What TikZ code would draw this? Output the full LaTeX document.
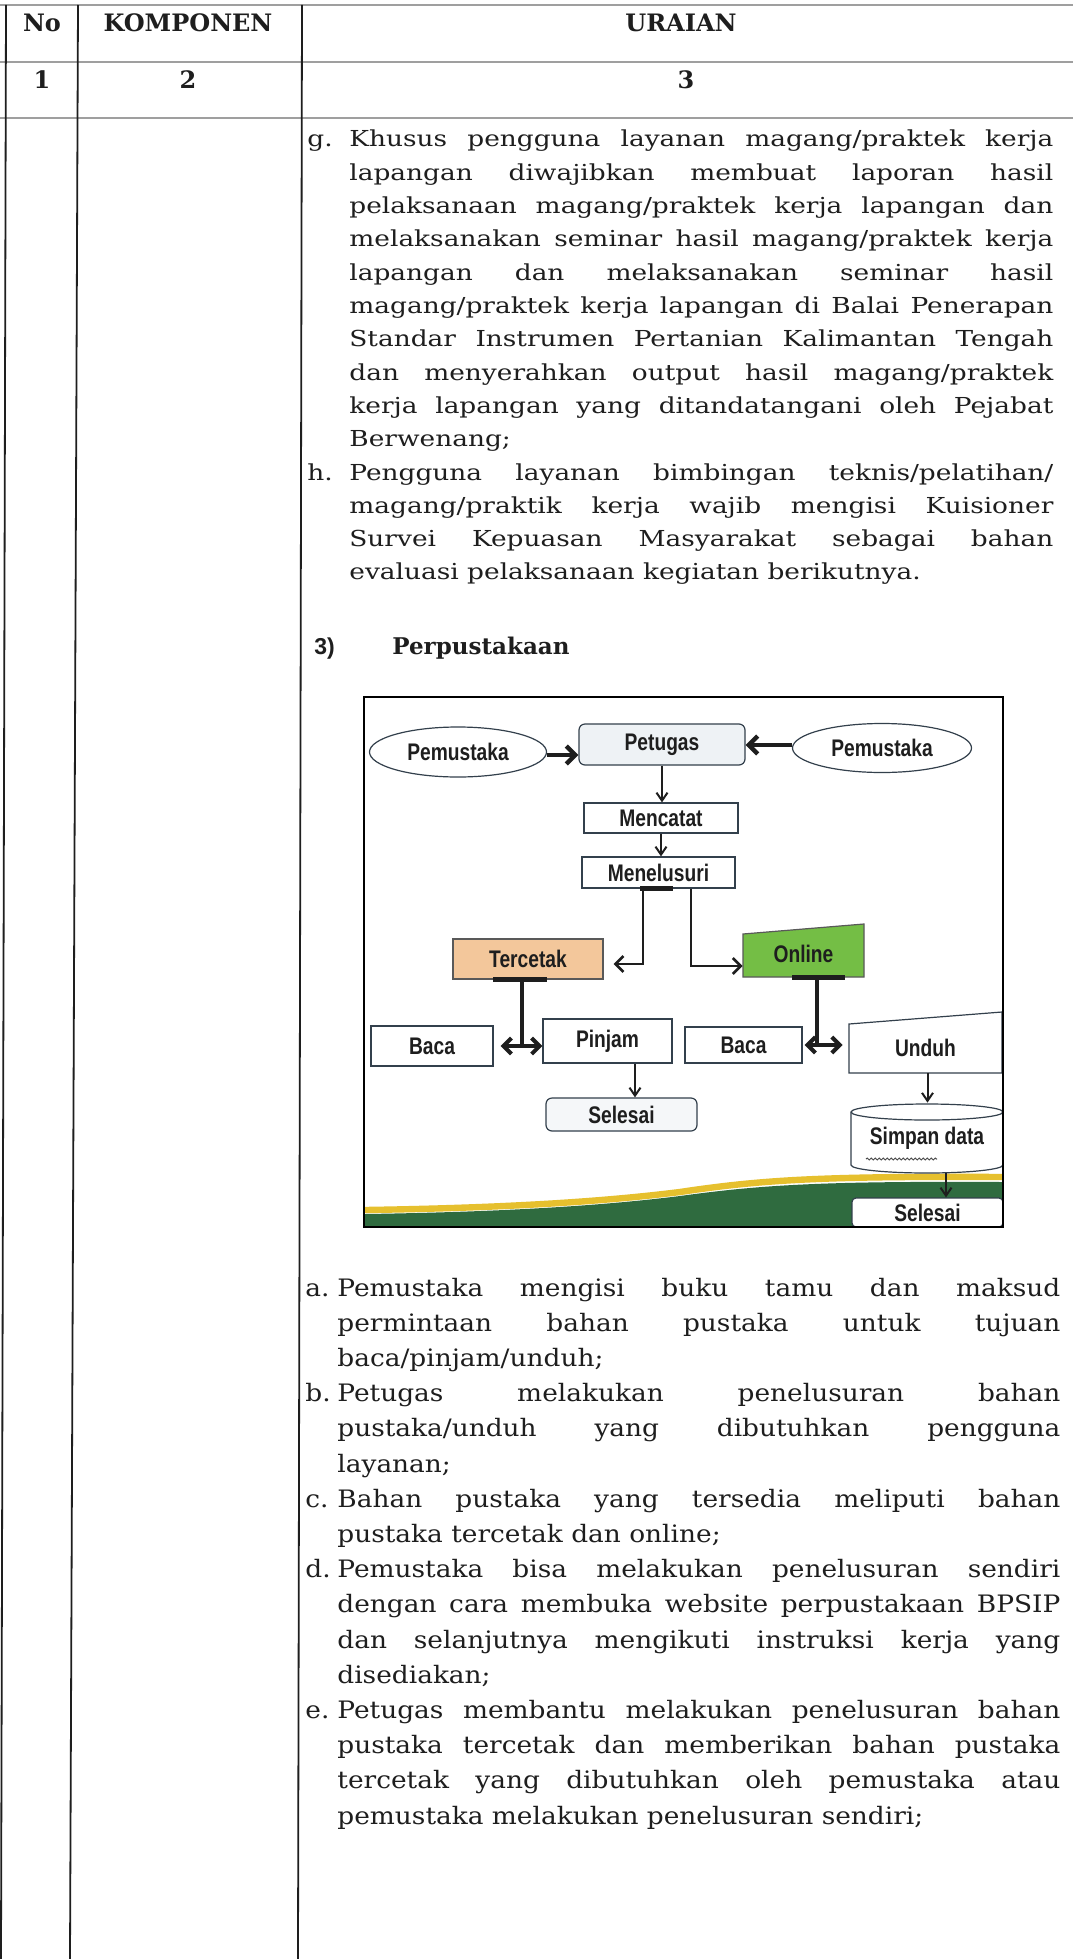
\documentclass[tikz,border=0pt]{standalone}
\usepackage{fontspec}
\setmainfont{DejaVu Serif}
\newfontfamily\upfont[FakeStretch=1.2]{DejaVu Serif}
\newfontfamily\lofont[FakeStretch=1.1]{DejaVu Serif}
\newfontfamily\hdfont{DejaVu Serif}
\newfontfamily\dgfont[FakeStretch=0.8]{Liberation Sans}
\newfontfamily\sansb{Liberation Sans}
\usetikzlibrary{arrows.meta,calc,shapes.geometric,decorations.pathmorphing}
\definecolor{txt}{HTML}{1E1E1E}
\definecolor{edge}{HTML}{33404C}
\definecolor{peach}{HTML}{F3C79B}
\definecolor{lime}{HTML}{74BE45}
\definecolor{dgreen}{HTML}{2F6B3F}
\definecolor{gold}{HTML}{E6C02E}
\definecolor{pale}{HTML}{EEF2F5}
\newcommand{\UL}[1]{\makebox[352pt][s]{#1}}
\newcommand{\LL}[1]{\makebox[361.5pt][s]{#1}}
\begin{document}
\begin{tikzpicture}[x=0.5pt,y=-0.5pt,
  hline/.style={draw=gray!75, line width=1pt},
  vline/.style={draw=txt, line width=0.9pt},
  hd/.style={anchor=base, inner sep=0pt, text=txt, font=\hdfont\bfseries\fontsize{12pt}{14pt}\selectfont},
  up/.style={anchor=base west, inner sep=0pt, text=txt, font=\upfont\fontsize{11pt}{13pt}\selectfont},
  lo/.style={anchor=base west, inner sep=0pt, text=txt, font=\lofont\fontsize{12pt}{14pt}\selectfont},
  box/.style={draw=edge, line width=0.6pt, fill=white, inner sep=0pt, text=txt,
    font=\dgfont\bfseries\fontsize{12pt}{13pt}\selectfont},
  nobox/.style={inner sep=0pt, text=txt, font=\dgfont\bfseries\fontsize{12pt}{13pt}\selectfont},
  arr/.style={draw=txt, line width=1pt, -{Straight Barb[length=4pt,width=5.5pt]}},
  bigarr/.style={draw=txt, line width=2.2pt, -{Straight Barb[length=4.5pt,width=9pt]}},
  elb/.style={draw=txt, line width=1.3pt, -{Straight Barb[length=4pt,width=8pt]}},
  dbl/.style={draw=txt, line width=2pt, {Straight Barb[length=4pt,width=8pt]}-{Straight Barb[length=4pt,width=8pt]}},
  bar/.style={draw=txt, line width=2.2pt},
  stem/.style={draw=txt, line width=2pt}
]
\useasboundingbox (0,0) rectangle (1073,1959);
\fill[white] (0,0) rectangle (1073,1959);

% ---------- table ----------
\draw[hline] (0,5) -- (1073,5);
\draw[hline] (0,62) -- (1073,62);
\draw[hline] (0,118) -- (1073,118);
\draw[vline] (6,5) -- (1,1959);
\draw[vline] (78,5) -- (70,1959);
\draw[vline] (302,5) -- (298,1959);

\node[hd] (hno) at (42,32) {No};
\node[hd] (hkomp) at (188,32) {KOMPONEN};
\node[hd] (hura) at (681,32) {URAIAN};
\node[hd] (n1) at (42,89) {1};
\node[hd] (n2) at (188,89) {2};
\node[hd] (n3) at (686,89) {3};

% ---------- upper text ----------
\node[up] (lg) at (307,147) {g.};
\node[up] (u1) at (349,147.0) {\UL{Khusus pengguna layanan magang/praktek kerja}};
\node[up] (u2) at (349,180.3) {\UL{lapangan diwajibkan membuat laporan hasil}};
\node[up] (u3) at (349,213.6) {\UL{pelaksanaan magang/praktek kerja lapangan dan}};
\node[up] (u4) at (349,246.9) {\UL{melaksanakan seminar hasil magang/praktek kerja}};
\node[up] (u5) at (349,280.2) {\UL{lapangan dan melaksanakan seminar hasil}};
\node[up] (u6) at (349,313.5) {\UL{magang/praktek kerja lapangan di Balai Penerapan}};
\node[up] (u7) at (349,346.8) {\UL{Standar Instrumen Pertanian Kalimantan Tengah}};
\node[up] (u8) at (349,380.1) {\UL{dan menyerahkan output hasil magang/praktek}};
\node[up] (u9) at (349,413.4) {\UL{kerja lapangan yang ditandatangani oleh Pejabat}};
\node[up] (u10) at (349,446.7) {Berwenang;};
\node[up] (lh) at (307,480) {h.};
\node[up] (u11) at (349,480.0) {\UL{Pengguna layanan bimbingan teknis/pelatihan/}};
\node[up] (u12) at (349,513.3) {\UL{magang/praktik kerja wajib mengisi Kuisioner}};
\node[up] (u13) at (349,546.6) {\UL{Survei Kepuasan Masyarakat sebagai bahan}};
\node[up] (u14) at (349,579.9) {evaluasi pelaksanaan kegiatan berikutnya.};

\node[anchor=base west, inner sep=0pt, text=txt, font=\sansb\bfseries\fontsize{11.5pt}{13pt}\selectfont] (s3) at (314,654) {3)};
\node[anchor=base west, inner sep=0pt, text=txt, font=\hdfont\bfseries\fontsize{11.5pt}{13pt}\selectfont] (sperp) at (392,654) {Perpustakaan};

% ---------- diagram ----------
\fill[white] (364,697) rectangle (1003,1227);
% wave
\fill[dgreen] (365,1226) -- (365,1214) .. controls (500,1212) and (600,1206) .. (680,1196)
   .. controls (760,1185) and (820,1181) .. (1002,1182) -- (1002,1226) -- cycle;
\draw[gold, line width=3.2pt] (365,1210) .. controls (500,1208) and (600,1202) .. (680,1192)
   .. controls (760,1180) and (820,1176) .. (1002,1177);

% shapes drawn directly
\filldraw[fill=lime, draw=gray!70!black, line width=0.6pt] (743,934) -- (864,924) -- (864,977) -- (743,977) -- cycle;
\filldraw[fill=white, draw=edge, line width=0.6pt] (849,1024) -- (1002,1012) -- (1002,1073) -- (849,1073) -- cycle;
\filldraw[fill=white, draw=edge, line width=0.6pt] (851,1112) -- (851,1165)
   arc[start angle=180, end angle=360, x radius=38pt, y radius=4pt] -- (1003,1112)
   arc[start angle=0, end angle=180, x radius=38pt, y radius=4pt] -- cycle;
\draw[edge, line width=0.6pt] (851,1112) arc[start angle=180, end angle=360, x radius=38pt, y radius=4pt];

\node[box, ellipse, minimum width=88.5pt, minimum height=25pt] (pemL) at (458,752) {Pemustaka};
\node[box, ellipse, minimum width=89.5pt, minimum height=24.5pt] (pemR) at (882,748) {Pemustaka};
\node[box, rounded corners=3pt, fill=pale, minimum width=83pt, minimum height=20.5pt] (petugas) at (662,744.5) {Petugas};
\node[box, minimum width=77pt, minimum height=15pt] (mencatat) at (661,818) {Mencatat};
\node[box, minimum width=76.5pt, minimum height=15.5pt] (menelusuri) at (658.5,872.5) {Menelusuri};
\node[box, fill=peach, draw=gray!70!black, minimum width=75pt, minimum height=20pt] (tercetak) at (528,959) {Tercetak};
\node[nobox, minimum width=60.5pt, minimum height=23pt] (online) at (803.5,954) {Online};
\node[box, minimum width=61pt, minimum height=20pt] (bacaL) at (432,1046) {Baca};
\node[box, minimum width=64.5pt, minimum height=22pt] (pinjam) at (607.5,1041) {\raisebox{1.5pt}{Pinjam}};
\node[box, rounded corners=3pt, fill=pale!60, minimum width=75.5pt, minimum height=16.5pt] (selL) at (621.5,1114.5) {Selesai};
\node[box, minimum width=58.5pt, minimum height=18pt] (bacaR) at (743.5,1045) {Baca};
\node[nobox, minimum width=76.5pt, minimum height=25pt] (unduh) at (925.5,1048) {Unduh};
\node[nobox, minimum width=76pt, minimum height=35pt] (simpan) at (927,1138) {\raisebox{-4.5pt}{Simpan data}};
\node[box, rounded corners=2pt, minimum width=75.5pt, minimum height=14.5pt] (selR) at (927.5,1212.5) {Selesai};

\draw[gray!60!black, line width=0.5pt, decorate, decoration={snake, amplitude=0.45pt, segment length=2pt}] (866,1159) -- (937,1159);

% connectors
\draw[bigarr] ([yshift=-1.5pt]pemL.east) -- ([yshift=-1.5pt]pemL.east -| petugas.west);
\draw[bigarr] ([yshift=1.5pt]pemR.west) -- ([yshift=1.5pt]pemR.west -| petugas.east);
\draw[arr] (petugas.south) -- (petugas.south |- mencatat.north);
\draw[arr] (mencatat.south) -- (mencatat.south |- menelusuri.north);
\draw[bar] ([xshift=-9.25pt]menelusuri.south) -- ([xshift=7.25pt]menelusuri.south);
\draw[elb] ([xshift=-7.75pt]menelusuri.south) |- ([xshift=5pt,yshift=-2.5pt]tercetak.east);
\draw[elb] ([xshift=16.25pt]menelusuri.south) |- ([yshift=-6pt]online.west);
\draw[bar] ([xshift=-17.5pt]tercetak.south) -- ([xshift=9.5pt]tercetak.south);
\draw[stem] ([xshift=-3pt]tercetak.south) -- ([xshift=-3pt]tercetak.south |- bacaL.east);
\draw[dbl] ([xshift=3.5pt]bacaL.east) -- (bacaL.east -| pinjam.west);
\draw[bar] ([xshift=-5.75pt]online.south) -- ([xshift=20.75pt]online.south);
\draw[stem] ([xshift=6.75pt]online.south) -- ([xshift=6.75pt]online.south |- bacaR.east);
\draw[dbl] ([xshift=1pt]bacaR.east) -- ([xshift=-3pt]bacaR.east -| unduh.west);
\draw[arr] ([xshift=13.75pt]pinjam.south) -- ([xshift=13.75pt]pinjam.south |- selL.north);
\draw[arr] ([xshift=1pt]unduh.south) -- ([xshift=1pt]unduh.south |- simpan.north);
\draw[arr] ([xshift=9.5pt]simpan.south) -- ([xshift=9.5pt]simpan.south |- selR.north);

\draw[black, line width=1.2pt] (364,697) rectangle (1003,1227);

% ---------- lower text ----------
\node[lo] (la) at (305,1296.0) {a.};
\node[lo] (l1) at (337,1296.0) {\LL{Pemustaka mengisi buku tamu dan maksud}};
\node[lo] (l2) at (337,1331.2) {\LL{permintaan bahan pustaka untuk tujuan}};
\node[lo] (l3) at (337,1366.4) {baca/pinjam/unduh;};
\node[lo] (lb) at (305,1401.6) {b.};
\node[lo] (l4) at (337,1401.6) {\LL{Petugas melakukan penelusuran bahan}};
\node[lo] (l5) at (337,1436.8) {\LL{pustaka/unduh yang dibutuhkan pengguna}};
\node[lo] (l6) at (337,1472.0) {layanan;};
\node[lo] (lc) at (305,1507.2) {c.};
\node[lo] (l7) at (337,1507.2) {\LL{Bahan pustaka yang tersedia meliputi bahan}};
\node[lo] (l8) at (337,1542.4) {pustaka tercetak dan online;};
\node[lo] (ld) at (305,1577.6) {d.};
\node[lo] (l9) at (337,1577.6) {\LL{Pemustaka bisa melakukan penelusuran sendiri}};
\node[lo] (l10) at (337,1612.8) {\LL{dengan cara membuka website perpustakaan BPSIP}};
\node[lo] (l11) at (337,1648.0) {\LL{dan selanjutnya mengikuti instruksi kerja yang}};
\node[lo] (l12) at (337,1683.2) {disediakan;};
\node[lo] (le) at (305,1718.4) {e.};
\node[lo] (l13) at (337,1718.4) {\LL{Petugas membantu melakukan penelusuran bahan}};
\node[lo] (l14) at (337,1753.6) {\LL{pustaka tercetak dan memberikan bahan pustaka}};
\node[lo] (l15) at (337,1788.8) {\LL{tercetak yang dibutuhkan oleh pemustaka atau}};
\node[lo] (l16) at (337,1824.0) {pemustaka melakukan penelusuran sendiri;};
\end{tikzpicture}
\end{document}
